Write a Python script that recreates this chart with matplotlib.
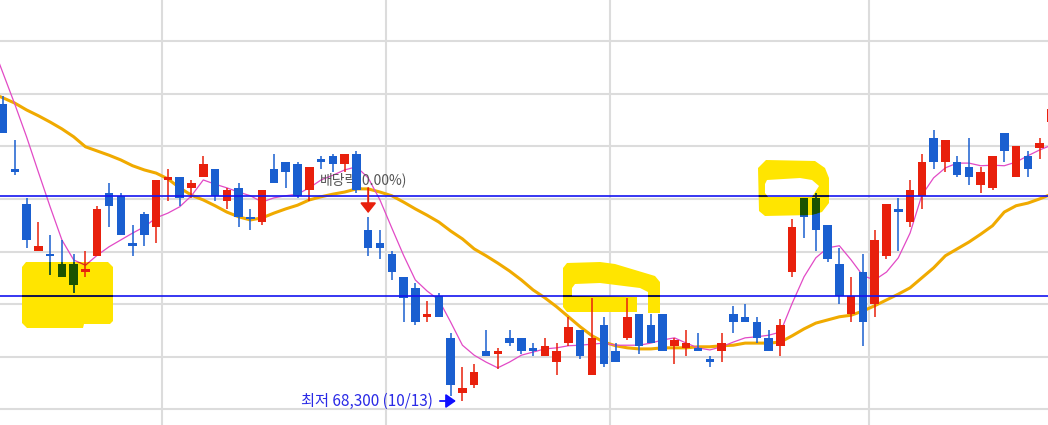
import numpy as np
import matplotlib
matplotlib.use('Agg')
import matplotlib.pyplot as plt
from matplotlib.path import Path
from matplotlib.patches import PathPatch
from matplotlib.transforms import Affine2D

plt.rcParams['font.family'] = ['Noto Sans CJK KR', 'DejaVu Sans']

# daily candles (session 0 = 2023-08-10 ... ), prices in won
opens = [73950, 72700, 72050, 71150, 71100, 70900, 70900, 70750, 71050, 72250,
         72200, 71300, 71850, 71600, 72500, 72550, 72350, 72550, 72700, 72100,
         72350, 71800, 71700, 72700, 72850, 72800, 72300, 72900, 72950, 72800,
         73000, 71550, 71300, 71100, 70650, 70450, 69900, 70300, 69500, 68450,
         68600, 69250, 69200, 69500, 69500, 69300, 69150, 69050, 69400, 69650,
         68800, 69750, 69250, 69500, 69950, 69750, 69950, 69350, 69300, 69300,
         69100, 69250, 69950, 69900, 69800, 69500, 69350, 70750, 72150, 72150,
         71650, 70900, 69950, 70750, 70150, 71050, 71950, 71700, 72200, 73300,
         72850, 72850, 72750, 72400, 72350, 73400, 72550, 72950, 73100, 73600]
highs = [74100, 73250, 72150, 71700, 71450, 71350, 71100, 71150, 72000, 72450,
         72250, 71650, 71900, 72500, 72700, 72550, 72500, 72950, 72700, 72350,
         72450, 71950, 72300, 73000, 72850, 72850, 72750, 72950, 73000, 73000,
         73050, 71800, 71550, 71150, 70650, 70550, 70200, 70350, 69600, 68950,
         69000, 69650, 69300, 69650, 69500, 69400, 69500, 69400, 69900, 69650,
         70250, 69900, 69400, 70250, 69950, 69950, 69950, 69500, 69650, 69600,
         69150, 69600, 70100, 70150, 69900, 69650, 69850, 71750, 72150, 72250,
         71650, 71200, 70650, 71100, 71550, 72050, 72150, 72500, 73000, 73450,
         73250, 72950, 73300, 72750, 72950, 73400, 73150, 73050, 73300, 73900]
lows = [73400, 72600, 71200, 71150, 70700, 70650, 70350, 70650, 71050, 71600,
        71450, 71050, 71250, 71300, 72100, 72000, 72150, 72550, 72100, 71950,
        71600, 71550, 71650, 72450, 72350, 72150, 72100, 72700, 72650, 72650,
        72250, 71050, 71000, 70600, 69800, 69750, 69800, 69900, 68400, 68300,
        68550, 69150, 68900, 69350, 69200, 69150, 69150, 68800, 69350, 69100,
        68800, 68950, 69050, 69450, 69200, 69400, 69250, 69000, 69150, 69250,
        68950, 69050, 69600, 69800, 69400, 69250, 69150, 70650, 71400, 71150,
        70950, 70150, 69800, 69350, 69900, 71000, 71150, 71600, 71950, 72700,
        72650, 72550, 72400, 72250, 72300, 72850, 72550, 72550, 72900, 73550]
closes = [73400, 72650, 71350, 71250, 71050, 70650, 70500, 70800, 71950, 72000,
          71450, 71250, 71450, 72500, 72550, 72150, 72450, 72800, 72200, 72300,
          71800, 71750, 72300, 72450, 72650, 72200, 72750, 72850, 72800, 73000,
          72300, 71200, 71200, 70750, 70250, 69800, 69950, 69900, 68600, 68550,
          68850, 69150, 69250, 69400, 69250, 69250, 69350, 69250, 69700, 69150,
          69500, 69000, 69050, 69900, 69350, 69400, 69250, 69450, 69400, 69250,
          69050, 69400, 69800, 69800, 69500, 69250, 69750, 71600, 71800, 71550,
          71000, 70300, 70300, 69800, 71350, 72050, 71900, 72300, 72850, 72850,
          73250, 72600, 72550, 72650, 72950, 73050, 73150, 72700, 73200, 73850]

# moving averages for sessions -1 .. 89
ma5 = [75120, 74530, 73940, 73320, 72650, 71990, 71360, 70980, 70880, 71070,
       71230, 71360, 71490, 71610, 71780, 71870, 71990, 72200, 72500, 72420,
       72350, 72270, 72200, 72080, 72160, 72200, 72230, 72350, 72500, 72590,
       72690, 72750, 72540, 72120, 71590, 71070, 70600, 70390, 70220, 69800,
       69360, 69170, 69040, 68930, 69040, 69170, 69230, 69290, 69310, 69350,
       69360, 69380, 69400, 69360, 69360, 69360, 69400, 69460, 69500, 69400,
       69310, 69270, 69330, 69420, 69500, 69520, 69550, 69610, 70160, 70660,
       71020, 71210, 71250, 70980, 70680, 70600, 70750, 71020, 71490, 72210,
       72540, 72730, 72820, 72820, 72770, 72780, 72770, 72840, 72960, 73070, 73160]
ma20 = [74150, 74060, 73960, 73830, 73720, 73600, 73470, 73320, 73130, 73050,
        72970, 72880, 72770, 72690, 72630, 72520, 72350, 72210, 72120, 72010,
        71890, 71800, 71740, 71780, 71870, 71950, 72020, 72120, 72180, 72230,
        72270, 72330, 72330, 72270, 72200, 72080, 71950, 71830, 71700, 71530,
        71380, 71190, 71060, 70920, 70770, 70600, 70410, 70260, 70090, 69900,
        69710, 69540, 69420, 69350, 69310, 69290, 69290, 69310, 69310, 69310,
        69330, 69330, 69350, 69360, 69400, 69400, 69400, 69420, 69540, 69670,
        69780, 69840, 69900, 69930, 70010, 70110, 70220, 70330, 70450, 70640,
        70830, 71060, 71190, 71320, 71470, 71630, 71890, 72010, 72060, 72140, 72230]

month_starts = [14, 33, 52, 74]          # first session of Sep, Oct, Nov, Dec
grid_prices = np.arange(68140, 75500, 1000)
level_lines = [72200, 70300]
low_idx, low_label = 39, '최저 68,300 (10/13)'
exdiv_idx, exdiv_label = 31, '배당락(0.00%)'

RED = '#e8200c'
BLUE = '#1a5fd0'
GREEN = '#1a5200'
PINK = '#e24ac6'
ORANGE = '#f0aa00'
LEVEL = '#1414f0'
MARKER = '#ffe500'

fig = plt.figure(figsize=(10.48, 4.25), dpi=100)
ax = fig.add_axes([0, 0, 1, 1])

o, h, l, c = (np.array(v, dtype=float) for v in (opens, highs, lows, closes))
x = np.arange(len(o))
up = c >= o


def draw_candles(mask, color, z, clip=None):
    bottoms = np.minimum(o, c)[mask]
    heights = np.maximum(np.abs(c - o)[mask], 25)
    bars = ax.bar(x[mask], heights, bottom=bottoms, width=0.72, color=color,
                  linewidth=0, zorder=z)
    wicks = ax.vlines(x[mask], l[mask], h[mask], color=color, linewidth=1.1, zorder=z)
    if clip is not None:
        for b in bars:
            b.set_clip_path(clip)
        wicks.set_clip_path(clip)


def ring_path(*rings):
    verts, codes = [], []
    for r in rings:
        verts += list(r) + [r[0]]
        codes += [Path.MOVETO] + [Path.LINETO] * (len(r) - 1) + [Path.CLOSEPOLY]
    return Path(verts, codes)


# grid
ax.set_xticks(np.array(month_starts) - 0.5)
ax.set_yticks(grid_prices)
ax.grid(True, color='#dcdcdc', linewidth=1.5)
ax.set_axisbelow(True)
ax.tick_params(length=0, labelbottom=False, labelleft=False)
for s in ax.spines.values():
    s.set_visible(False)

# hand drawn highlighter marks (screen pixels, y down)
px = Affine2D().scale(0.01, -0.01).translate(0, 4.25) + fig.dpi_scale_trans
marks = [
    ring_path([(26, 262), (108, 262), (113, 267), (113, 321), (110, 324), (84, 324),
               (83, 328), (27, 328), (22, 323), (22, 267)]),
    ring_path([(567, 263), (600, 262), (615, 264), (635, 270), (655, 276), (660, 282),
               (660, 313), (648, 313), (648, 292), (640, 288), (600, 283), (575, 284),
               (572, 288), (572, 296), (637, 297), (637, 312), (567, 312), (563, 307),
               (563, 268)]),
    ring_path([(766, 160), (815, 161), (825, 168), (829, 178), (829, 203), (822, 212),
               (812, 215), (765, 216), (759, 211), (758, 168)],
              [(767, 180), (765, 184), (765, 193), (768, 197), (812, 197), (819, 186),
               (812, 180), (800, 178)]),
]
patches = []
for m in marks:
    p = PathPatch(m, transform=px, facecolor=MARKER, edgecolor='none', zorder=1)
    ax.add_patch(p)
    patches.append(p)

# moving averages
ma_x = np.arange(-1, len(ma5) - 1)
ax.plot(ma_x, ma20, color=ORANGE, linewidth=2.2, zorder=2)
ax.plot(ma_x, ma5, color=PINK, linewidth=0.9, zorder=2.1)

# ex-dividend label (behind candles)
ax.text(exdiv_idx - 4.1, 72500, exdiv_label, color='#555555', fontsize=10,
        ha='left', va='center', zorder=2.5)

# candles
draw_candles(up, RED, 3)
draw_candles(~up, BLUE, 3)

# level lines
for lv in level_lines:
    ax.axhline(lv, color=LEVEL, linewidth=1.2, zorder=5)

# what the marker does to blue ink underneath it
for p in patches:
    draw_candles(~up, GREEN, 3.1, clip=p)
    ln, = ax.plot(ma_x, ma5, color='#e03c00', linewidth=0.9, zorder=2.2)
    ln.set_clip_path(p)
    for lv in level_lines:
        hl = ax.axhline(lv, color='#101030', linewidth=1.2, zorder=5.1)
        hl.set_clip_path(p)

# ex-dividend arrow
ax.annotate('', xy=(exdiv_idx, highs[exdiv_idx] + 70), xytext=(0, 25),
            textcoords='offset pixels',
            arrowprops=dict(arrowstyle='-|>,head_length=0.5,head_width=0.4',
                            color=RED, lw=1.4, mutation_scale=12,
                            shrinkA=0, shrinkB=0), zorder=6)

# lowest price
ax.annotate(low_label, xy=(low_idx - 0.55, lows[low_idx]), xytext=(-23, 0),
            textcoords='offset pixels', ha='right', va='center',
            color='#2a2ae6', fontsize=11,
            arrowprops=dict(arrowstyle='-|>,head_length=0.5,head_width=0.35',
                            color='#1010ff', lw=1.3, mutation_scale=12,
                            shrinkA=3, shrinkB=0), zorder=6)

ax.set_xlim(-0.255, 88.71)
ax.set_ylim(67844, 75919)

fig.savefig('out.png', dpi=100)
